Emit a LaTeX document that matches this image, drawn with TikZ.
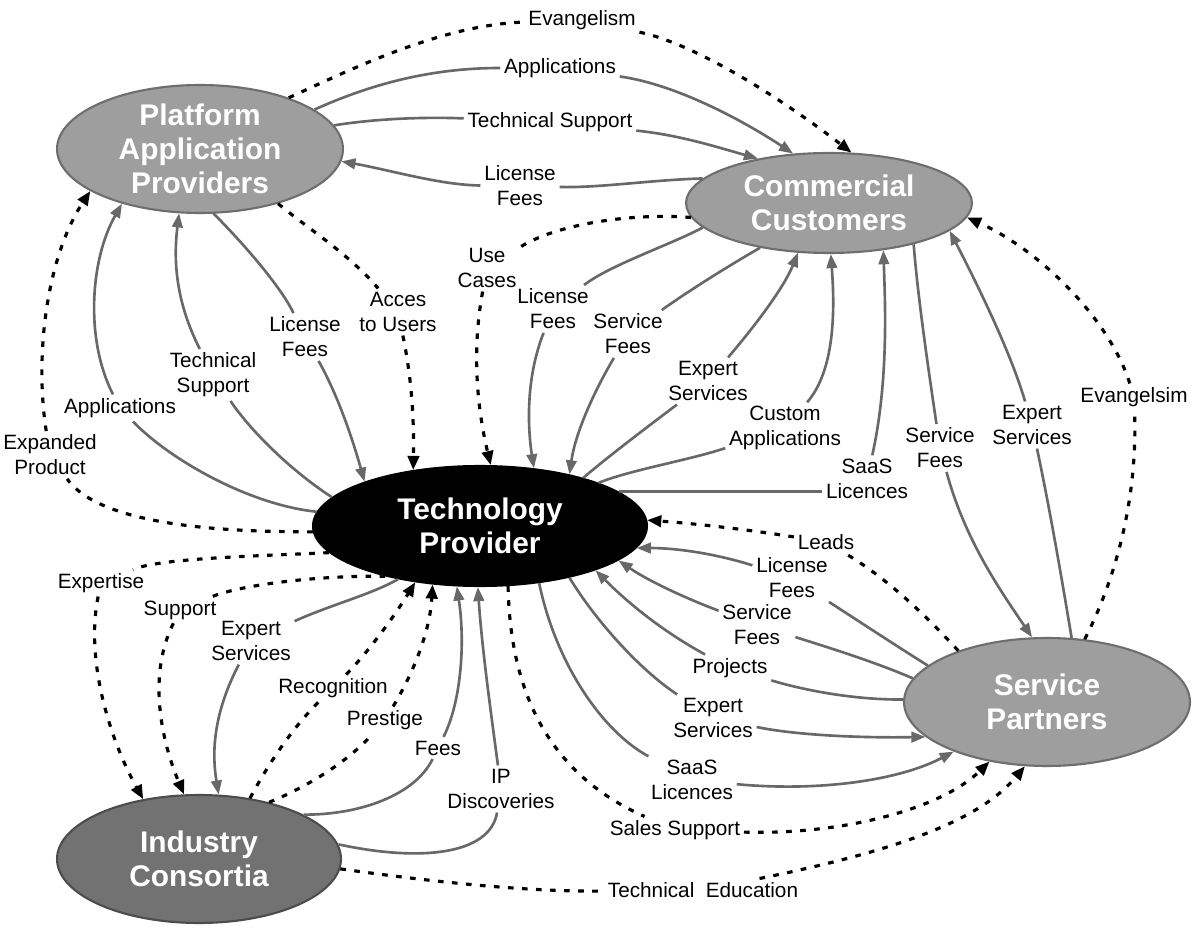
\documentclass[tikz,border=0pt]{standalone}
\usepackage{fontspec}
\setmainfont{Liberation Sans}
\usetikzlibrary{arrows.meta,shapes.geometric}
\definecolor{entgray}{HTML}{9E9E9E}
\definecolor{entline}{HTML}{6E6E6E}
\definecolor{icgray}{HTML}{727272}
\definecolor{icline}{HTML}{4C4C4C}
\definecolor{flowgray}{HTML}{686868}

\begin{document}
\begin{tikzpicture}[
x=0.02cm,y=-0.02cm,
ent/.style={ellipse,draw=entline,line width=1.2pt,fill=entgray,minimum width=5.72cm,minimum height=2.56cm,inner sep=0pt},
enttxt/.style={text=white,font=\bfseries\fontsize{17}{19.5}\selectfont,align=center},
lbl/.style={font=\fontsize{11.8}{14.2}\selectfont,align=center,inner sep=2pt},
flow/.style={draw=flowgray,line width=1.5pt},
arr/.style={flow,-{Triangle[length=8pt,width=6pt]}},
dflow/.style={draw=black,line width=1.8pt,dash pattern=on 3.2pt off 4.8pt},
darr/.style={dflow,-{Triangle[length=8pt,width=6.5pt]}}
]
\path[use as bounding box,fill=white] (0,0) rectangle (1200,935);
\node[ent] (pap) at (200,149) {};
\node[ent,minimum height=2.0cm] (cc) at (829,203) {};
\node[ent,fill=black,draw=black,minimum width=6.68cm,minimum height=2.4cm] (tp) at (480,526) {};
\node[ent] (sp) at (1047,702) {};
\node[ent,fill=icgray,draw=icline,minimum width=5.68cm] (ic) at (199,859) {};
\node[enttxt] (paptxt) at (pap) {Platform\\Application\\Providers};
\node[enttxt] (cctxt) at (cc) {Commercial\\Customers};
\node[enttxt] (tptxt) at (tp) {Technology\\Provider};
\node[enttxt] (sptxt) at (sp) {Service\\Partners};
\node[enttxt] (ictxt) at (ic) {Industry\\Consortia};

\node[lbl] (evang) at (582,20) {Evangelism};
\node[lbl] (appsT) at (560,68) {Applications};
\node[lbl] (techT) at (550,122) {Technical Support};
\node[lbl] (licT) at (520,186) {License\\Fees};
\node[lbl] (expand) at (50,455) {Expanded\\Product};
\node[lbl] (appsL) at (120,408) {Applications};
\node[lbl] (techL) at (213,375) {Technical\\Support};
\node[lbl] (licL) at (305,337) {License\\Fees};
\node[lbl] (acces) at (398,312) {Acces\\to Users};
\node[lbl] (usec) at (487,268) {Use\\Cases};
\node[lbl] (licC) at (553,309) {License\\Fees};
\node[lbl] (servC) at (628,334) {Service\\Fees};
\node[lbl] (expC) at (708,381) {Expert\\Services};
\node[lbl] (custC) at (785,428) {Custom\\Applications};
\node[lbl] (saasC) at (867,479) {SaaS\\Licences};
\node[lbl] (servS) at (940,448) {Service\\Fees};
\node[lbl] (expS) at (1032,425) {Expert\\Services};
\node[lbl] (evangS) at (1134,397) {Evangelsim};
\node[lbl] (leads) at (826,542) {Leads};
\node[lbl] (licP) at (792,578) {License\\Fees};
\node[lbl] (servP) at (757,625) {Service\\Fees};
\node[lbl] (proj) at (730,668) {Projects};
\node[lbl] (expP) at (713,718) {Expert\\Services};
\node[lbl] (saasP) at (692,780) {SaaS\\Licences};
\node[lbl] (sales) at (675,830) {Sales Support};
\node[lbl] (tedu) at (703,890) {Technical~ Education};
\node[lbl] (expert) at (101,583) {Expertise};
\node[lbl] (supp) at (180,610) {Support};
\node[lbl] (expI) at (251,641) {Expert\\Services};
\node[lbl] (recog) at (333,688) {Recognition};
\node[lbl] (prest) at (385,720) {Prestige};
\node[lbl] (fees) at (438,748) {Fees};
\node[lbl] (ipd) at (501,789) {IP\\Discoveries};

\draw[dflow] (pap.30) .. controls (350,70) and (440,25) .. (evang);
\draw[darr] (evang) .. controls (700,45) and (790,105) .. (cc.66);
\draw[flow] (pap.19) .. controls (380,80) and (440,68) .. (appsT);
\draw[arr] (appsT) .. controls (680,85) and (750,125) .. (cc.126);
\draw[flow] (pap.10) .. controls (380,118) and (430,117) .. (techT);
\draw[arr] (techT) .. controls (680,135) and (720,148) .. (cc.148);
\draw[flow] (cc.169) .. controls (650,180) and (600,188) .. (licT);
\draw[arr] (licT) .. controls (440,185) and (390,170) .. (pap.-5);

\draw[dflow] (tp.182) .. controls (220,532) and (100,525) .. (expand);
\draw[darr] (expand) .. controls (35,360) and (45,260) .. (pap.201);
\draw[flow] (tp.175) .. controls (250,505) and (170,460) .. (appsL);
\draw[arr] (appsL) .. controls (85,340) and (90,260) .. (pap.215);
\draw[flow] (tp.169) .. controls (290,470) and (250,430) .. (techL);
\draw[arr] (techL) .. controls (180,310) and (172,270) .. (pap.252);
\draw[flow] (pap.282) .. controls (240,240) and (280,285) .. (licL);
\draw[arr] (licL) .. controls (335,390) and (350,430) .. (tp.159);
\draw[dflow] (pap.325) .. controls (310,230) and (350,255) .. (acces);
\draw[darr] (acces) .. controls (412,380) and (414,420) .. (tp.140);

\draw[dflow] (cc.186) .. controls (640,213) and (560,222) .. (usec);
\draw[darr] (usec) .. controls (470,360) and (480,420) .. (tp.80);
\draw[flow] (cc.191) .. controls (670,245) and (610,265) .. (licC);
\draw[arr] (licC) .. controls (525,380) and (528,430) .. (tp.47);
\draw[flow] (cc.213) .. controls (730,265) and (690,290) .. (servC);
\draw[arr] (servC) .. controls (592,395) and (575,435) .. (tp.30);
\draw[flow] (tp.25) .. controls (610,455) and (650,425) .. (expC);
\draw[arr] (expC) .. controls (760,320) and (785,285) .. (cc.238);
\draw[flow] (tp.20) .. controls (630,470) and (690,460) .. (custC);
\draw[arr] (custC) .. controls (835,370) and (835,310) .. (cc.272);
\draw[flow] (tp.14) -- (tp.14 -| saasC.west);
\draw[arr] (saasC) .. controls (889,380) and (885,300) .. (cc.319);

\draw[flow] (cc.334) .. controls (918,300) and (930,380) .. (servS);
\draw[arr] (servS) .. controls (965,540) and (1000,590) .. (sp.103);
\draw[flow] (sp.69) .. controls (1062,580) and (1050,510) .. (expS);
\draw[arr] (expS) .. controls (1010,350) and (975,280) .. (cc.347);
\draw[dflow] (sp.59) .. controls (1115,580) and (1138,500) .. (evangS);
\draw[darr] (evangS) .. controls (1110,320) and (1040,250) .. (cc.354);

\draw[dflow] (sp.150) .. controls (930,620) and (890,580) .. (leads);
\draw[darr] (leads) .. controls (750,530) and (700,524) .. (tp.2);
\draw[flow] (sp.163) .. controls (895,645) and (860,622) .. (licP);
\draw[arr] (licP) .. controls (720,555) and (680,548) .. (tp.352);
\draw[flow] (sp.170) .. controls (875,662) and (830,648) .. (servP);
\draw[arr] (servP) .. controls (690,600) and (650,582) .. (tp.346);
\draw[flow] (sp.179) .. controls (860,700) and (810,692) .. (proj);
\draw[arr] (proj) .. controls (660,630) and (625,600) .. (tp.339);
\draw[flow] (tp.330) .. controls (595,620) and (640,670) .. (expP);
\draw[arr] (expP) .. controls (800,736) and (870,738) .. (sp.196);
\draw[flow] (tp.316) .. controls (555,660) and (600,730) .. (saasP);
\draw[arr] (saasP) .. controls (820,792) and (900,780) .. (sp.208);
\draw[dflow] (tp.295) .. controls (510,680) and (540,770) .. (sales);
\draw[darr] (sales) .. controls (840,835) and (940,810) .. (sp.226);
\draw[dflow] (ic.356) .. controls (420,880) and (520,892) .. (tedu);
\draw[darr] (tedu) .. controls (900,850) and (980,820) .. (sp.251);

\draw[dflow] (tp.190) .. controls (260,556) and (160,558) .. (expert);
\draw[darr] (expert) .. controls (85,660) and (110,740) .. (ic.133);
\draw[dflow] (tp.208) .. controls (320,575) and (240,585) .. (supp);
\draw[darr] (supp) .. controls (145,680) and (165,750) .. (ic.103);
\draw[flow] (tp.213) .. controls (370,595) and (330,605) .. (expI);
\draw[arr] (expI) .. controls (210,720) and (213,760) .. (ic.73);
\draw[dflow] (ic.50) .. controls (265,770) and (290,730) .. (recog);
\draw[darr] (recog) .. controls (370,650) and (395,615) .. (tp.221);
\draw[dflow] (ic.39) .. controls (300,790) and (345,765) .. (prest);
\draw[darr] (prest) .. controls (415,670) and (430,630) .. (tp.231);
\draw[flow] (ic.23) .. controls (360,815) and (415,795) .. (fees);
\draw[arr] (fees) .. controls (462,700) and (465,640) .. (tp.249);
\draw[flow] (ic.6) .. controls (420,862) and (490,855) .. (ipd);
\draw[arr] (ipd) .. controls (492,720) and (482,650) .. (tp.268);
\end{tikzpicture}
\end{document}
